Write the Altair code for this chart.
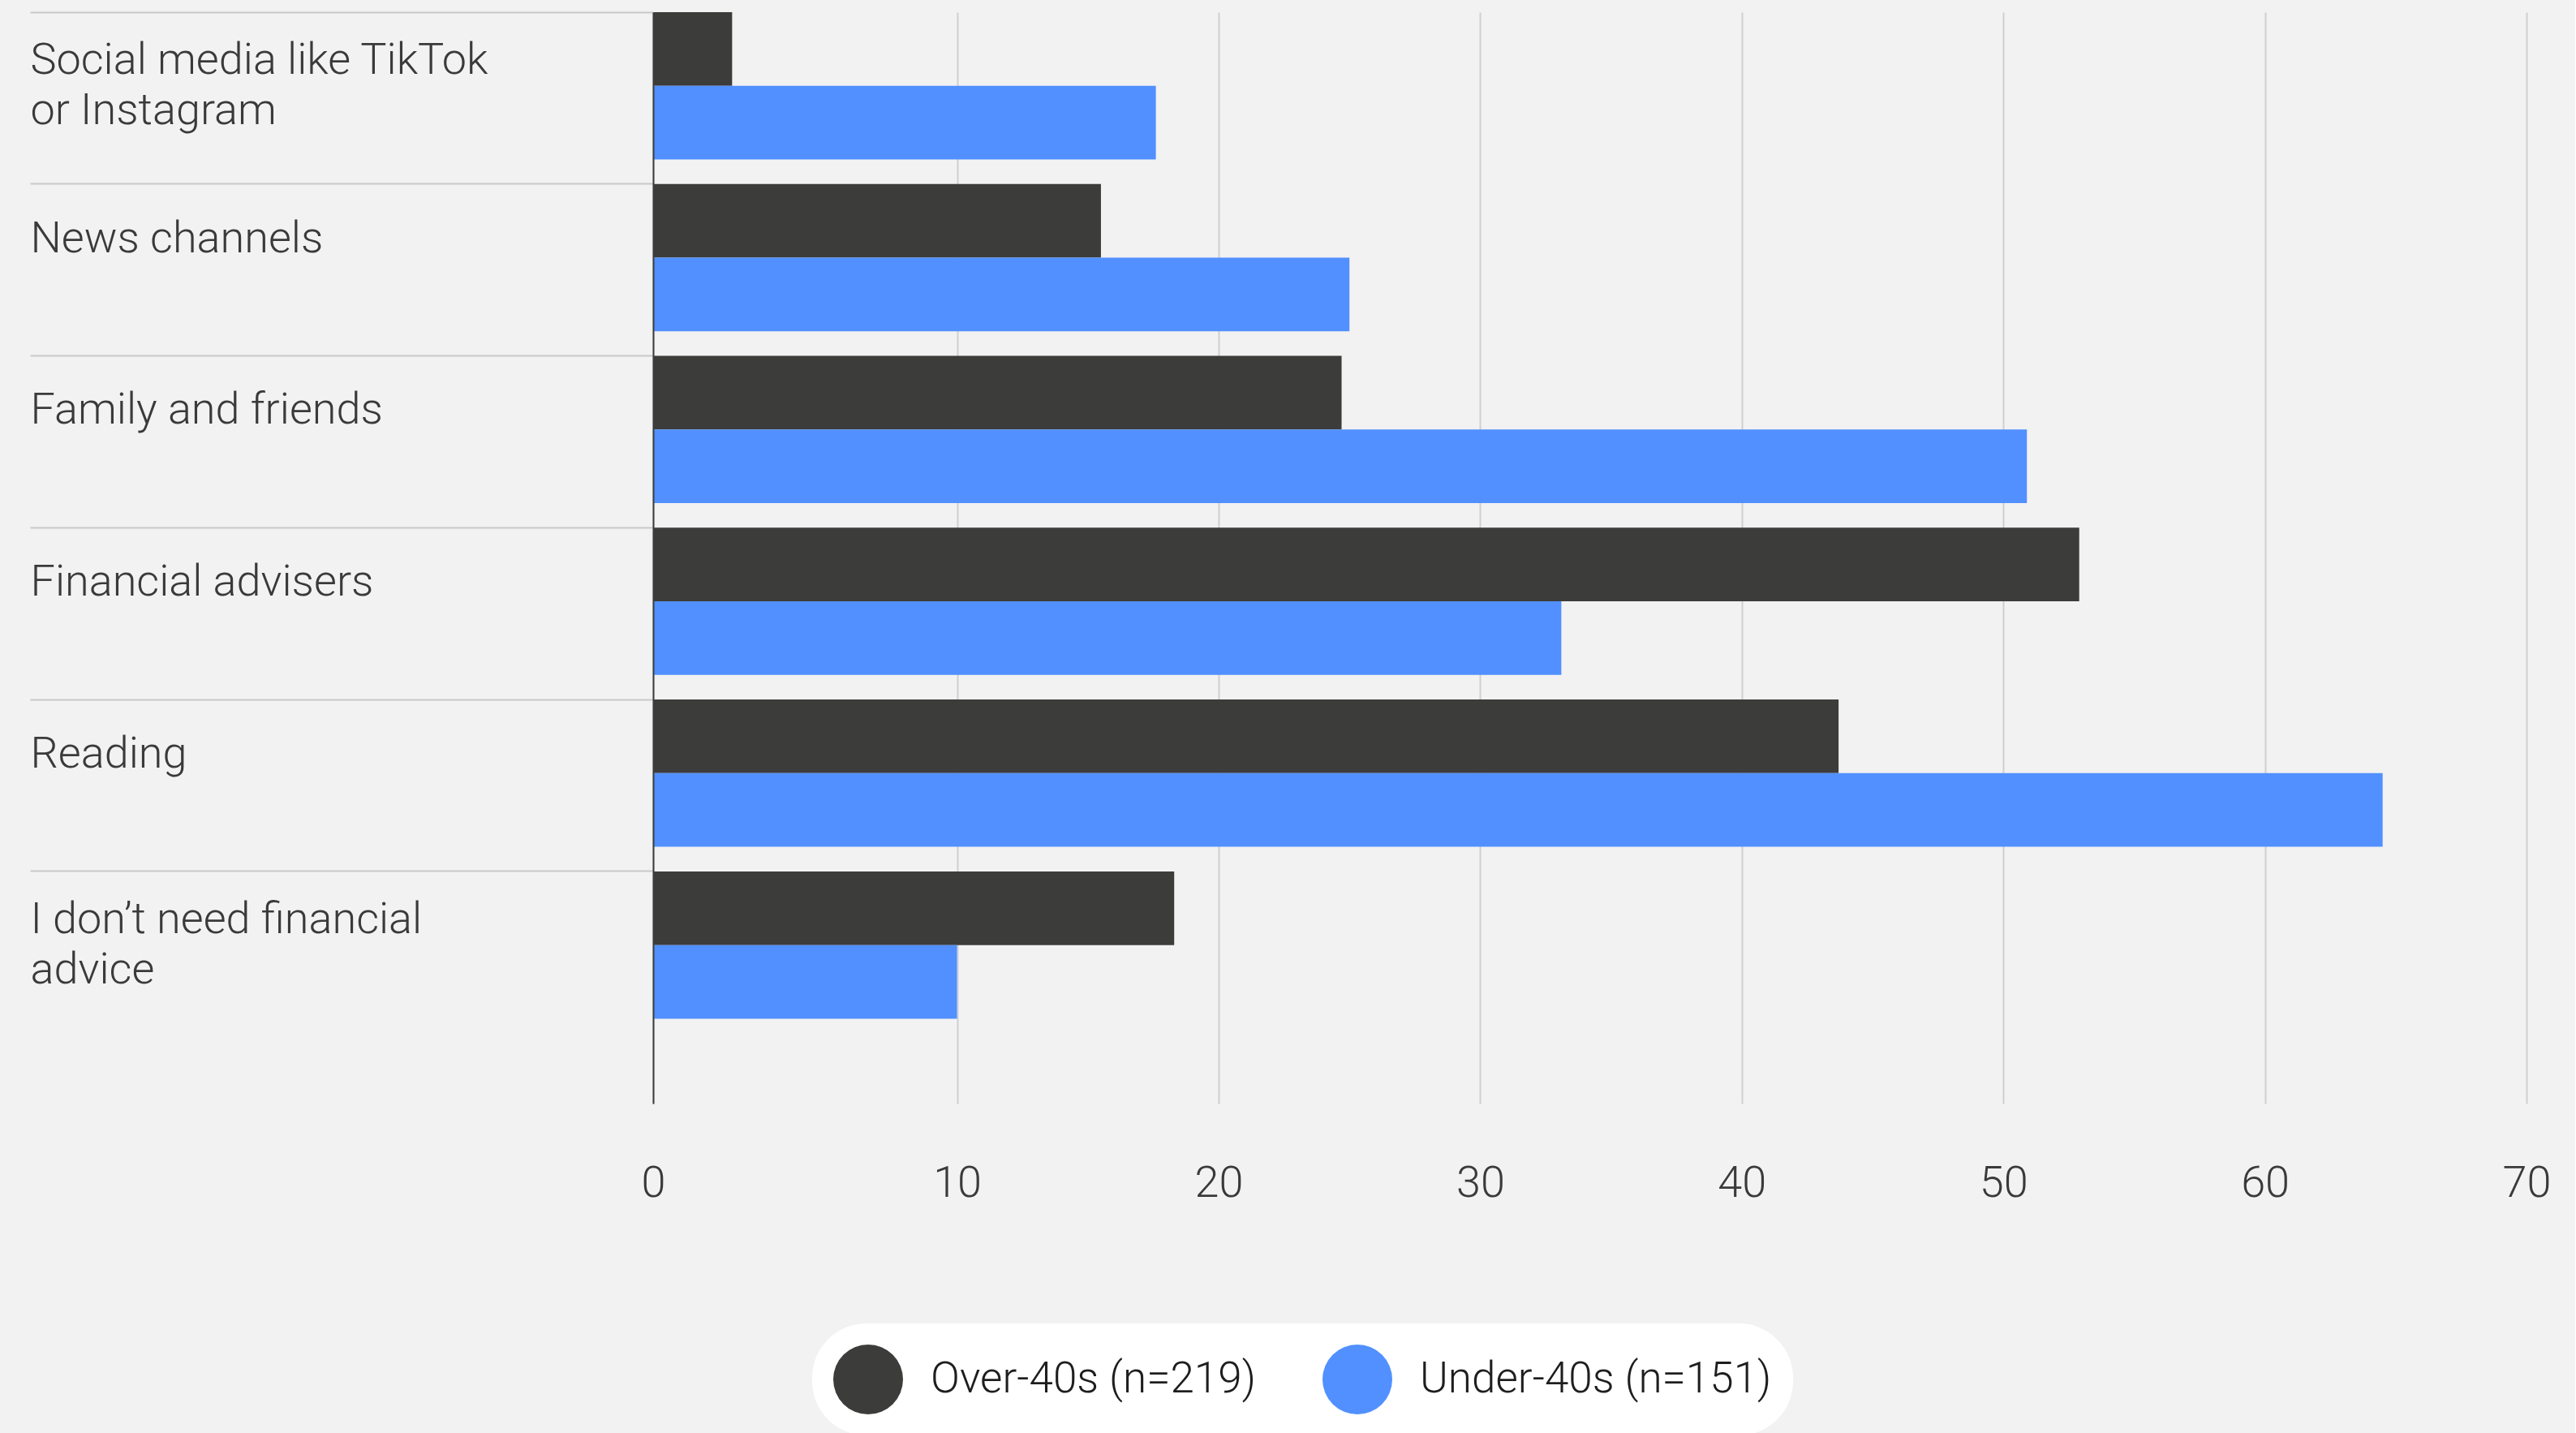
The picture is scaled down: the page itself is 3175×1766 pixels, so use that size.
import altair as alt
import pandas as pd

# ---- data ----
categories = [
    "Social media like TikTok\nor Instagram",
    "News channels",
    "Family and friends",
    "Financial advisers",
    "Reading",
    "I don\u2019t need financial\nadvice",
]
groups = ["Over-40s (n=219)", "Under-40s (n=151)"]
over_40s = [1.4, 15.5, 24.7, 52.9, 43.7, 18.3]
under_40s = [17.6, 25.0, 50.9, 33.1, 64.5, 10.0]
x_tick_values = [10, 20, 30, 40, 50, 60, 70]

# ---- styling ----
colors = ["#3c3c3b", "#5290ff"]
X_START = -1.62   # baseline/axis line sits a little left of zero in the original
X_END = 70
FONT = "Roboto"
TEXT = "#3a3a3a"

rows = []
for c, a, b in zip(categories, over_40s, under_40s):
    rows.append({"category": c, "group": groups[0], "value": a})
    rows.append({"category": c, "group": groups[1], "value": b})
df = pd.DataFrame(rows)

y_axis = alt.Axis(
    orient="left",
    bandPosition=0,
    domain=True, domainColor="#3c3c3c", domainWidth=2,
    ticks=True, tickSize=768, tickColor="#c8c8c8", tickWidth=2,
    grid=False,
    labelAlign="left", labelBaseline="alphabetic", labelPadding=0,
    labelOffset={"condition": {"test": "indexof(datum.value, '\\n') >= 0", "value": -15}, "value": -7},
    labelExpr="split(datum.label, '\\n')",
    labelLineHeight=62,
    labelFont=FONT, labelFontWeight=300, labelFontSize=54, labelColor=TEXT,
    labelLimit=760, labelOverlap=False,
    zindex=1,
)

x_axis = alt.Axis(
    values=[X_START] + x_tick_values,
    labelExpr="datum.value < 0 ? '0' : datum.label",
    domain=False, ticks=False, tickSize=0,
    grid=True, gridColor="#cfcfcf", gridWidth=2,
    labelFont=FONT, labelFontWeight=300, labelFontSize=54, labelColor=TEXT,
    labelBaseline="alphabetic", labelPadding=114,
    labelFlush=False, labelOverlap=False,
)

legend = alt.Legend(
    title=None, orient="none", legendX=196, legendY=1616, direction="horizontal",
    fillColor="white", cornerRadius=67, padding=26,
    symbolType="circle", symbolSize=86 * 86, symbolStrokeWidth=0, symbolOpacity=1,
    labelFont=FONT, labelFontWeight=300, labelFontSize=53, labelColor="#1e1e1e",
    labelOffset=34, columnPadding=82, labelLimit=700,
)

chart = (
    alt.Chart(df)
    .mark_bar()
    .encode(
        y=alt.Y("category:N", sort=categories, title=None,
                scale=alt.Scale(paddingInner=0.143, paddingOuter=0.247, align=0),
                axis=y_axis),
        x=alt.X("value:Q", title=None,
                scale=alt.Scale(domain=[X_START, X_END], nice=False, zero=False),
                axis=x_axis),
        x2=alt.datum(X_START),
        yOffset=alt.YOffset("group:N", sort=groups,
                            scale=alt.Scale(paddingInner=0, paddingOuter=0)),
        color=alt.Color("group:N", sort=groups,
                        scale=alt.Scale(domain=groups, range=colors),
                        legend=legend),
    )
    .properties(
        width=2309, height=1345, background="#f2f2f2",
        padding={"left": 36, "top": 14, "right": 30, "bottom": 0},
    )
    .configure_view(stroke=None)
)

chart.save("out.html", embed_options={"renderer": "svg", "actions": False})
